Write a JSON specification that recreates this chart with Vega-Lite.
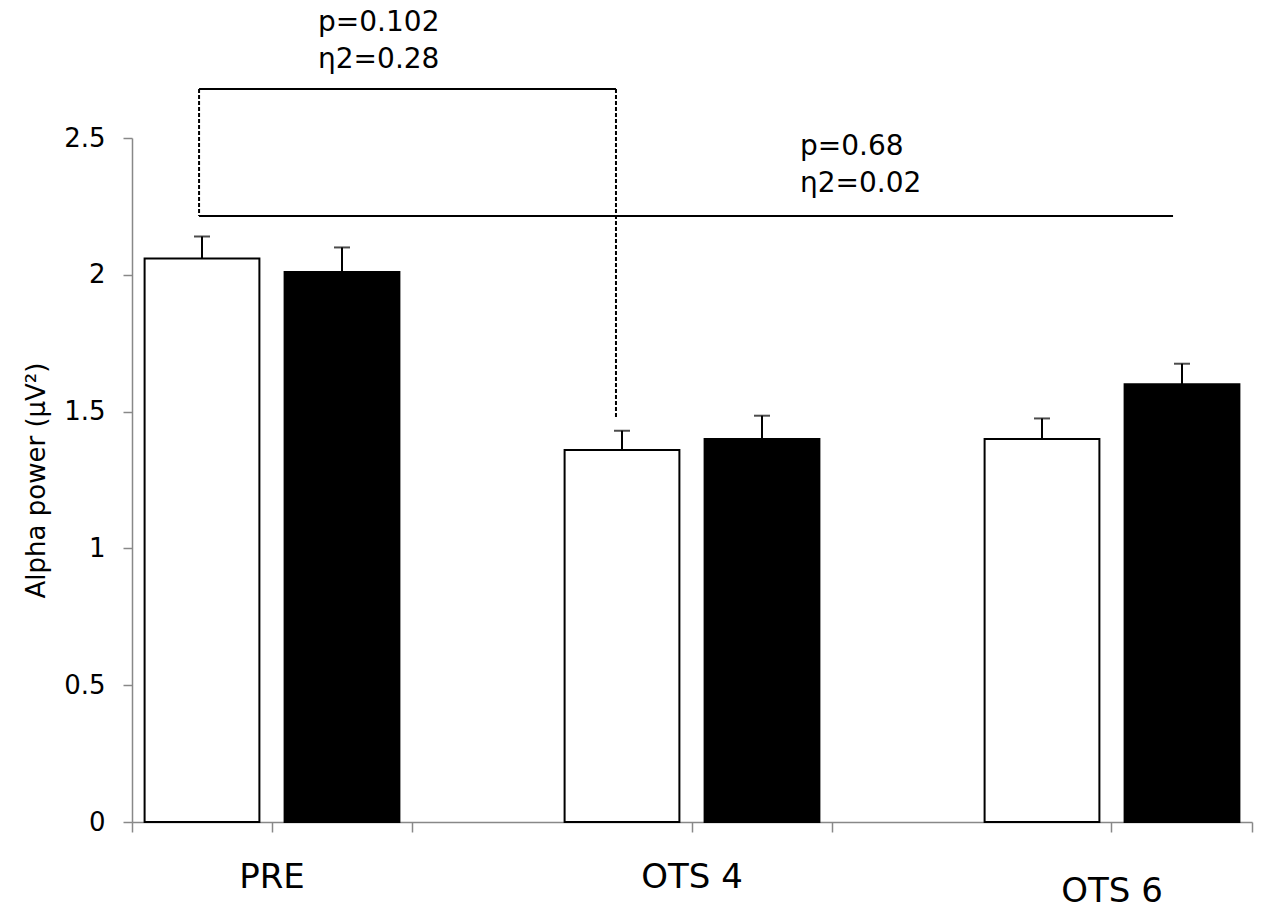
{
  "$schema": "https://vega.github.io/schema/vega-lite/v6.json",
  "width": 1120,
  "height": 684,
  "autosize": {"type": "none"},
  "padding": {"left": 132, "top": 138, "right": 15, "bottom": 101},
  "background": "white",
  "config": {
    "view": {"stroke": null},
    "font": "DejaVu Sans",
    "axis": {"labelFont": "DejaVu Sans", "titleFont": "DejaVu Sans", "labelColor": "black", "titleColor": "black", "grid": false}
  },
  "datasets": {
    "bars": [
      {"time": "PRE", "group": "A", "value": 2.06, "upper": 2.14},
      {"time": "PRE", "group": "B", "value": 2.01, "upper": 2.10},
      {"time": "OTS 4", "group": "A", "value": 1.36, "upper": 1.43},
      {"time": "OTS 4", "group": "B", "value": 1.40, "upper": 1.485},
      {"time": "OTS 6", "group": "A", "value": 1.40, "upper": 1.475},
      {"time": "OTS 6", "group": "B", "value": 1.60, "upper": 1.675}
    ],
    "solidLines": [
      {"x": 0.479, "x2": 3.457, "y": 2.679, "y2": 2.679},
      {"x": 0.479, "x2": 7.436, "y": 2.215, "y2": 2.215}
    ],
    "dashedLines": [
      {"x": 0.479, "x2": 0.479, "y": 2.679, "y2": 2.215},
      {"x": 3.457, "x2": 3.457, "y": 2.679, "y2": 1.473}
    ],
    "notes": [
      {"x": 1.329, "y": 2.891, "label": "p=0.102"},
      {"x": 1.329, "y": 2.756, "label": "η2=0.28"},
      {"x": 4.771, "y": 2.438, "label": "p=0.68"},
      {"x": 4.771, "y": 2.303, "label": "η2=0.02"}
    ]
  },
  "resolve": {"scale": {"x": "independent", "xOffset": "independent"}, "axis": {"x": "independent"}},
  "layer": [
    {
      "data": {"name": "bars"},
      "mark": {"type": "bar", "stroke": "black", "strokeWidth": 2},
      "encoding": {
        "x": {
          "field": "time", "type": "nominal", "sort": null,
          "scale": {"domain": ["PRE", "OTS 4", "OTS 6"], "paddingInner": 0.33333, "paddingOuter": 0},
          "axis": {
            "orient": "bottom", "title": null, "labelAngle": 0,
            "labelFontSize": 34, "labelBaseline": "top",
            "labelPadding": {"condition": {"test": "datum.value === 'OTS 6'", "value": 42}, "value": 28},
            "tickSize": 10, "tickColor": "#888888", "tickWidth": 1.5,
            "domainColor": "#888888", "domainWidth": 1.5
          }
        },
        "xOffset": {"field": "group", "type": "nominal", "scale": {"domain": ["A", "B"], "paddingInner": 0.18, "paddingOuter": 0.09}},
        "y": {
          "field": "value", "type": "quantitative", "title": "Alpha power  (μV²)",
          "scale": {"domain": [0, 2.5], "nice": false, "zero": true},
          "axis": {
            "title": "Alpha power  (μV²)", "titleFontSize": 26, "titleFontWeight": "normal", "titlePadding": 14,
            "values": [0, 0.5, 1, 1.5, 2, 2.5], "format": "~g",
            "labelFontSize": 26, "labelPadding": 18,
            "tickSize": 9, "tickColor": "#888888", "tickWidth": 1.5,
            "domainColor": "#888888", "domainWidth": 1.5
          }
        },
        "fill": {"field": "group", "type": "nominal", "scale": {"domain": ["A", "B"], "range": ["white", "black"]}, "legend": null}
      }
    },
    {
      "data": {"name": "bars"},
      "mark": {"type": "rule", "color": "black", "strokeWidth": 2},
      "encoding": {
        "x": {
          "field": "time", "type": "nominal", "sort": null,
          "scale": {"domain": ["PRE", "OTS 4", "OTS 6"], "paddingInner": 0.33333, "paddingOuter": 0},
          "axis": {
            "orient": "bottom", "title": null, "labels": false, "domain": false, "tickBand": "extent",
            "tickSize": 10, "tickColor": "#888888", "tickWidth": 1.5
          }
        },
        "xOffset": {"field": "group", "type": "nominal", "scale": {"domain": ["A", "B"], "paddingInner": 0.18, "paddingOuter": 0.09}},
        "y": {"field": "value", "type": "quantitative", "title": "Alpha power  (μV²)", "scale": {"domain": [0, 2.5], "nice": false}},
        "y2": {"field": "upper"}
      }
    },
    {
      "data": {"name": "bars"},
      "mark": {"type": "tick", "color": "black", "thickness": 2, "size": 16},
      "encoding": {
        "x": {
          "field": "time", "type": "nominal", "sort": null,
          "scale": {"domain": ["PRE", "OTS 4", "OTS 6"], "paddingInner": 0.33333, "paddingOuter": 0},
          "axis": null
        },
        "xOffset": {"field": "group", "type": "nominal", "scale": {"domain": ["A", "B"], "paddingInner": 0.18, "paddingOuter": 0.09}},
        "y": {"field": "upper", "type": "quantitative", "title": "Alpha power  (μV²)", "scale": {"domain": [0, 2.5], "nice": false}}
      }
    },
    {
      "data": {"name": "solidLines"},
      "mark": {"type": "rule", "color": "black", "strokeWidth": 2},
      "encoding": {
        "x": {"field": "x", "type": "quantitative", "scale": {"domain": [0, 8], "nice": false, "zero": false}, "axis": null},
        "x2": {"field": "x2"},
        "y": {"field": "y", "type": "quantitative", "title": "Alpha power  (μV²)", "scale": {"domain": [0, 2.5], "nice": false}},
        "y2": {"field": "y2"}
      }
    },
    {
      "data": {"name": "dashedLines"},
      "mark": {"type": "rule", "color": "black", "strokeWidth": 2, "strokeDash": [4, 2]},
      "encoding": {
        "x": {"field": "x", "type": "quantitative", "scale": {"domain": [0, 8], "nice": false, "zero": false}, "axis": null},
        "x2": {"field": "x2"},
        "y": {"field": "y", "type": "quantitative", "title": "Alpha power  (μV²)", "scale": {"domain": [0, 2.5], "nice": false}},
        "y2": {"field": "y2"}
      }
    },
    {
      "data": {"name": "notes"},
      "mark": {"type": "text", "align": "left", "baseline": "alphabetic", "fontSize": 28, "font": "DejaVu Sans", "color": "black"},
      "encoding": {
        "x": {"field": "x", "type": "quantitative", "scale": {"domain": [0, 8], "nice": false, "zero": false}, "axis": null},
        "y": {"field": "y", "type": "quantitative", "title": "Alpha power  (μV²)", "scale": {"domain": [0, 2.5], "nice": false}},
        "text": {"field": "label"}
      }
    }
  ]
}
